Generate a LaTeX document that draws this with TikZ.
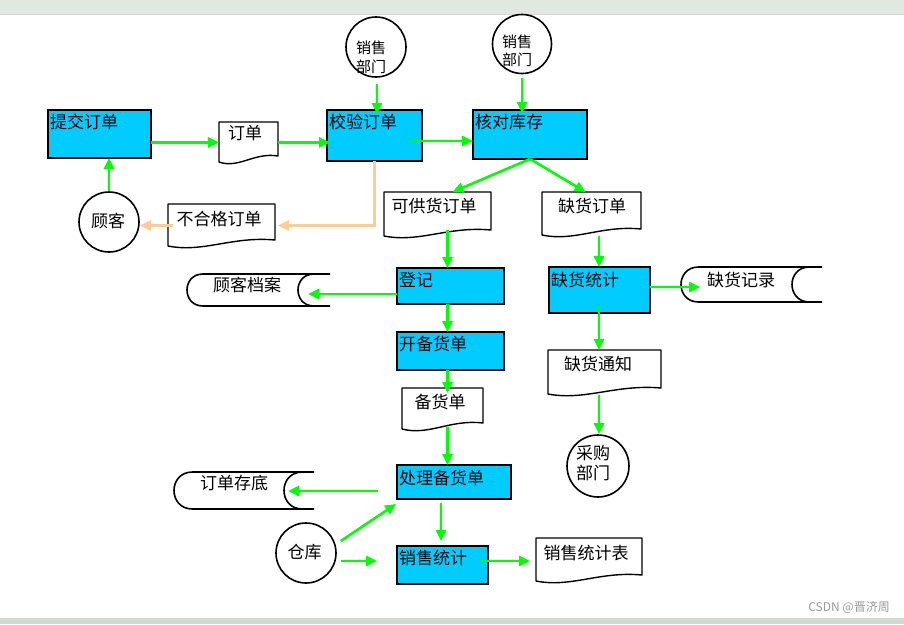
\documentclass[tikz,border=0pt]{standalone}
\usepackage{fontspec}
\newfontfamily\cjk{Noto Sans CJK SC}
\usetikzlibrary{arrows.meta,calc}
\definecolor{boxcyan}{HTML}{00CCFF}
\definecolor{flowgreen}{HTML}{00FF00}
\definecolor{rejorange}{HTML}{FFCC99}
\definecolor{bandtop}{HTML}{E0E8E0}
\definecolor{bandbot}{HTML}{D3DAD3}
\definecolor{wmgrey}{HTML}{9A9A9A}
\tikzset{
  pbox/.style={draw=black, line width=2pt, fill=boxcyan, rectangle, inner sep=0pt, outer sep=0pt, anchor=north west},
  boxlbl/.style={anchor=base west, inner sep=0pt, xshift=2pt, yshift=-18pt, font=\cjk\fontsize{17}{20}\selectfont},
  circ/.style={draw=black, line width=1.6pt, circle, inner sep=0pt, fill=white},
  area/.style={rectangle, inner sep=0pt, outer sep=0pt},
  docline/.style={draw=black, line width=1.4pt, fill=white, line join=round},
  txt/.style={inner sep=0pt, font=\cjk\fontsize{17}{20}\selectfont},
  stxt/.style={inner sep=0pt, align=center, font=\cjk\fontsize{15}{18.5}\selectfont},
  flow/.style={draw=flowgreen, line width=2.6pt, -{Triangle[length=11pt,width=10pt]}},
  rej/.style={draw=rejorange, line width=2.5pt, -{Triangle[length=11pt,width=10pt]}},
}
% document shape: name, x0, y0, x1, y1
\newcommand\docnode[5]{%
  \node[area, minimum width={#4-#2}, minimum height={#5-#3}] (#1) at ({(#2+#4)/2},{(#3+#5)/2}) {};
  \draw[docline] (#2,{#5-1}) -- (#2,#3) -- (#4,#3) -- (#4,{#5-7})
    .. controls ({#2+0.6*(#4-#2)},{#5-11}) and ({#2+0.33*(#4-#2)},{#5+6}) .. cycle;
}
% stored data shape: name, x0, y0, x1, y1, x of leftmost point of right arc
\newcommand\storenode[6]{%
  \node[area, minimum width={#4-#2}, minimum height={#5-#3}] (#1) at ({(#2+#4)/2},{(#3+#5)/2}) {};
  \fill[white] ({#2+(#5-#3)/2},#3) -- (#4,#3) -- ({#6+(#5-#3)/2},#3)
     .. controls ({#6-(#5-#3)/6},#3) and ({#6-(#5-#3)/6},#5) .. ({#6+(#5-#3)/2},#5) -- ({#2+(#5-#3)/2},#5)
     .. controls ({#2-(#5-#3)/6},#5) and ({#2-(#5-#3)/6},#3) .. cycle;
  \draw[line width=1.6pt] (#4,#3) -- ({#2+(#5-#3)/2},#3)
     .. controls ({#2-(#5-#3)/6},#3) and ({#2-(#5-#3)/6},#5) .. ({#2+(#5-#3)/2},#5) -- (#4,#5);
  \draw[line width=1.6pt] ({#6+(#5-#3)/2},#3)
     .. controls ({#6-(#5-#3)/6},#3) and ({#6-(#5-#3)/6},#5) .. ({#6+(#5-#3)/2},#5);
}
\begin{document}
\begin{tikzpicture}[x=1pt, y=-1pt]
\useasboundingbox (0,0) rectangle (904,624);
\fill[white] (0,0) rectangle (904,624);
\fill[bandtop] (0,0) rectangle (904,14);
\draw[bandbot, line width=0.8pt] (0,14) -- (904,14);
\fill[bandbot] (0,618) rectangle (904,624);

% process boxes
\node[pbox, minimum width=103, minimum height=48,
  label={[boxlbl]north west:提交订单}] (tj) at (48,110) {};
\node[pbox, minimum width=95, minimum height=51,
  label={[boxlbl]north west:校验订单}] (jy) at (327,110) {};
\node[pbox, minimum width=114, minimum height=49,
  label={[boxlbl]north west:核对库存}] (hd) at (473,110) {};
\node[pbox, minimum width=107, minimum height=36,
  label={[boxlbl]north west:登记}] (dj) at (397,268) {};
\node[pbox, minimum width=107, minimum height=38,
  label={[boxlbl]north west:开备货单}] (kb) at (397,332) {};
\node[pbox, minimum width=114, minimum height=34,
  label={[boxlbl, yshift=-1pt]north west:处理备货单}] (cl) at (397,465) {};
\node[pbox, minimum width=91, minimum height=38,
  label={[boxlbl]north west:销售统计}] (ss) at (397,546) {};
\node[pbox, minimum width=101, minimum height=46,
  label={[boxlbl, yshift=-1pt]north west:缺货统计}] (qt) at (549,267) {};

% external entities
\node[circ, minimum size=60] (xs1) at (376,47) {};
\node[stxt] (xs1t) at (371,57.5) {销售\\部门};
\node[circ, minimum size=59] (xs2) at (522,44) {};
\node[stxt] (xs2t) at (517,51) {销售\\部门};
\node[circ, minimum size=60] (gk) at (109,222) {};
\node[txt] (gkt) at (108,221) {顾客};
\node[circ, minimum size=60] (ck) at (306,553) {};
\node[txt] (ckt) at (304.5,552) {仓库};
\node[circ, minimum size=62] (cg) at (598,466) {};
\node[txt, align=center, font=\cjk\fontsize{17}{20}\selectfont] (cgt) at (593,463) {采购\\部门};

% documents
\docnode{dd}{219}{122}{278}{163}
\node[txt] (ddt) at (245,133) {订单};
\docnode{bhg}{168}{204}{275}{247}
\node[txt] (bhgt) at (219,219) {不合格订单};
\docnode{kg}{384}{192}{491}{237}
\node[txt] (kgt) at (434,206) {可供货订单};
\docnode{qh}{542}{192}{641}{236}
\node[txt] (qht) at (592,206) {缺货订单};
\docnode{bh}{402}{388}{483}{430}
\node[txt] (bht) at (440,402) {备货单};
\docnode{qz}{548}{350}{661}{395}
\node[txt] (qzt) at (598,364) {缺货通知};
\docnode{sst}{536}{538}{642}{582}
\node[txt] (sstt) at (586,553) {销售统计表};

% data stores
\storenode{gda}{187}{274}{330}{306}{298}
\node[txt] (gdat) at (247,285) {顾客档案};
\storenode{qjl}{681}{267}{822}{302}{792}
\node[txt] (qjlt) at (741,280) {缺货记录};
\storenode{dcd}{174}{472}{314}{509}{284}
\node[txt] (dcdt) at (234,483) {订单存底};

% green flows
\draw[flow] (tj.east |- dd.west) -- (dd.west);
\draw[flow] (dd.east) -- ($(jy.west |- dd.east)+(3,0)$);
\draw[flow] (gk.north) -- (gk.north |- tj.south);
\draw[flow] ($(xs1.south)+(1,6)$) -- ($(xs1.south |- jy.north)+(1,4)$);
\draw[flow] ($(xs2.south)+(0,4)$) -- ($(xs2.south |- hd.north)+(0,3)$);
\draw[flow] ($(jy.east)+(-13,5.5)$) -- ($(hd.west)+(0,6.5)$);
\draw[flow] (hd.south) -- ($(kg.north)+(15,0)$);
\draw[flow] (hd.south) -- ($(qh.north)+(-6,0)$);
\draw[flow] ($(kg.south)+(10,-7)$) -- ($(dj.north)+(-3,0)$);
\draw[flow] ($(dj.south)+(-3,0)$) -- ($(kb.north)+(-3,0)$);
\draw[flow] ($(kb.south)+(-3,0)$) -- ($(bh.north)+(5,5)$);
\draw[flow] ($(bh.south)+(5,-3)$) -- ($(cl.north)+(-6.5,0)$);
\draw[flow] ($(dj.west)+(0,8)$) -- ($(gda.east)+(-22,4)$);
\draw[flow] ($(cl.west)+(-19,9)$) -- ($(dcd.east)+(-26,0.5)$);
\draw[flow] ($(cl.south)+(-13,4)$) -- ($(ss.north)+(-1.5,-5)$);
\draw[flow] ($(ck.east)+(4,-12)$) -- ($(cl.south west)+(-1,5)$);
\draw[flow] ($(ck.east)+(4,8)$) -- ($(ss.west)+(-20,-4)$);
\draw[flow] ($(ss.east)+(-8,-4)$) -- ($(sst.west)+(-6,1)$);
\draw[flow] ($(qh.south)+(7.5,0)$) -- ($(qt.north)+(-0.5,0)$);
\draw[flow] ($(qt.east)+(0,-3)$) -- ($(qjl.west)+(19,2.5)$);
\draw[flow] ($(qt.south)+(-0.5,-7)$) -- ($(qz.north)+(-5.5,0)$);
\draw[flow] ($(qz.south)+(-5.5,0)$) -- ($(cg.north)+(1,0)$);

% rejected order (orange)
\draw[rej] (jy.south) |- ($(bhg.east)+(3,0)$);
\draw[rej] ($(bhg.west)+(5,0)$) -- (gk.east |- bhg.west);

% watermark
\node[anchor=east, inner sep=0pt, text=wmgrey, font=\cjk\fontsize{12}{14}\selectfont] (wm) at (890,607) {CSDN @晋济周};
\end{tikzpicture}
\end{document}
